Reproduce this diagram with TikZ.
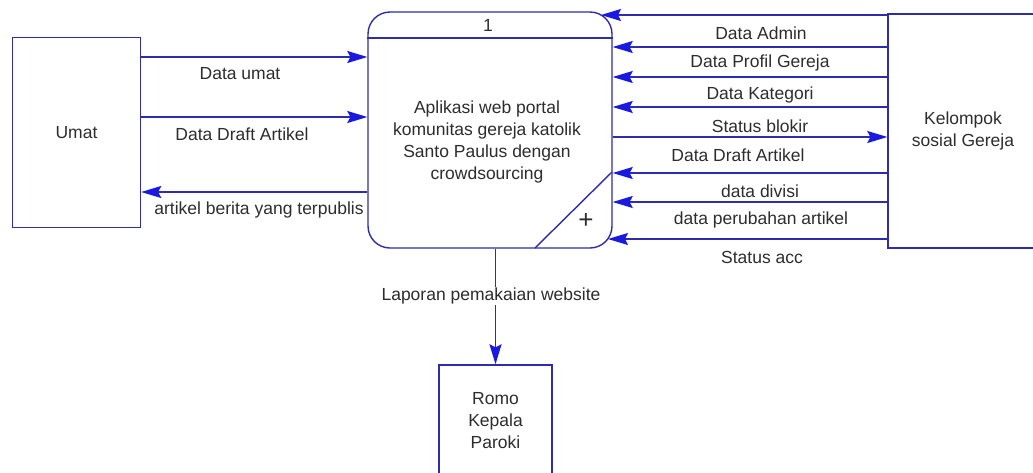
\documentclass[tikz,border=0pt]{standalone}
\usepackage{fontspec}
\setmainfont{Liberation Sans}
\usetikzlibrary{arrows.meta}
\definecolor{lc}{RGB}{45,45,170}
\definecolor{ac}{RGB}{25,25,225}
\definecolor{tc}{RGB}{45,45,45}
\begin{document}
\begin{tikzpicture}[x=1pt,y=-1pt,
  every node/.style={font=\fontsize{17.5}{22}\selectfont, text=tc},
  box/.style={draw=lc, line width=1.4pt, fill=white, inner sep=0pt, align=center},
  flow/.style={draw=lc, line width=1.4pt, -{Stealth[length=20pt,width=12pt,inset=3pt,color=ac]}},
  lbl/.style={inner sep=1pt}]
\useasboundingbox (0,0) rectangle (1033,472);
% label that is partly hidden by the process box
\node[lbl] (l3) at (259,210) {artikel berita yang terpublis};
% boxes
\node[box, minimum width=128pt, minimum height=190pt] (umat) at (76.5,132.5) {Umat};
\node[box, rounded corners=22pt, minimum width=244pt, minimum height=236pt] (proc) at (490,130) {};
\node[box, minimum width=150pt, minimum height=234pt] (kel) at (963,131) {Kelompok\\sosial Gereja};
\node[box, minimum width=113pt, minimum height=112pt] (romo) at (495.5,421) {Romo\\Kepala\\Paroki};
% process decorations
\draw[lc, line width=1.4pt] (proc.west |- 0,38) -- (proc.east |- 0,38);
\draw[lc, line width=1.4pt] (535,248) -- (612,172);
\node (pid) at (488,25) {1};
\node[font=\fontsize{26}{26}\selectfont] (plus) at (586,221) {+};
\node[align=center] (ptext) at (487,142) {Aplikasi web portal\\komunitas gereja katolik\\Santo Paulus dengan\\crowdsourcing};
% left flows
\draw[flow] (umat.east |- 0,57) -- (proc.west |- 0,57);
\draw[flow] (umat.east |- 0,117) -- (proc.west |- 0,117);
\draw[flow] (proc.west |- 0,192) -- (umat.east |- 0,192);
\node[lbl] (l1) at (240,74) {Data umat};
\node[lbl] (l2) at (242,134) {Data Draft Artikel};
% right flows
\coordinate (t1) at (601,15);
\coordinate (t8) at (608,239);
\draw[flow] (kel.west |- 0,15) -- (t1);
\draw[flow] (kel.west |- 0,47) -- (proc.east |- 0,47);
\draw[flow] (kel.west |- 0,77) -- (proc.east |- 0,77);
\draw[flow] (kel.west |- 0,107) -- (proc.east |- 0,107);
\draw[flow] (proc.east |- 0,137) -- (kel.west |- 0,137);
\draw[flow] (kel.west |- 0,173) -- (proc.east |- 0,173);
\draw[flow] (kel.west |- 0,202) -- (proc.east |- 0,202);
\draw[flow] (kel.west |- 0,239) -- (t8);
\node[lbl] (r1) at (761,33) {Data Admin};
\node[lbl] (r2) at (760,63) {Data Profil Gereja};
\node[lbl] (r3) at (760,95) {Data Kategori};
\node[lbl] (r4) at (760,126) {Status blokir};
\node[lbl] (r5) at (738,155) {Data Draft Artikel};
\node[lbl] (r6) at (760,191) {data divisi};
\node[lbl] (r7) at (761,220) {data perubahan artikel};
\node[lbl] (r8) at (762,257) {Status acc};
% down flow
\draw[flow] (romo.north |- proc.south) -- (romo.north);
\node[lbl, fill=white] (ld) at (491,296) {Laporan pemakaian website};
\end{tikzpicture}
\end{document}
